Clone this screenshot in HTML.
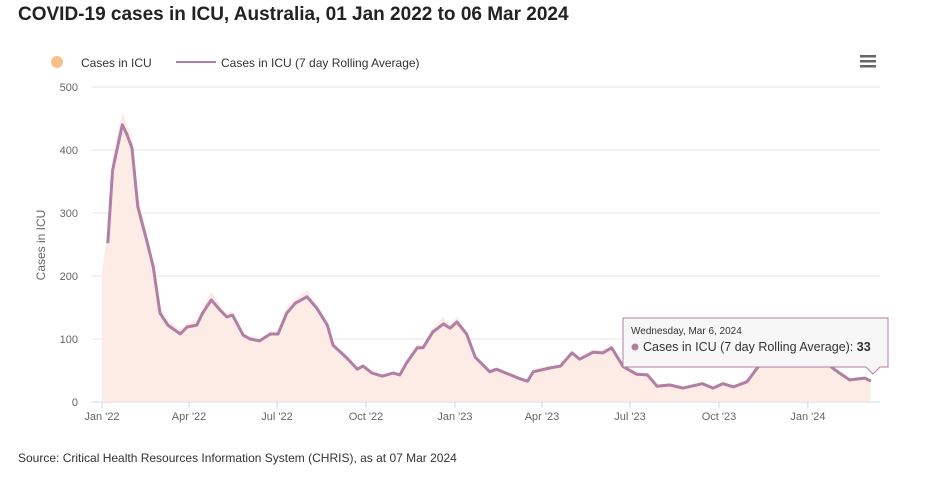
<!DOCTYPE html>
<html><head><meta charset="utf-8"><style>
body{margin:0;width:950px;height:477px;background:#fff;font-family:"Liberation Sans",sans-serif;overflow:hidden}
</style></head><body>
<svg width="950" height="477" xmlns="http://www.w3.org/2000/svg" font-family="Liberation Sans, sans-serif">
<text x="18" y="20" font-size="19" font-weight="bold" fill="#222">COVID-19 cases in ICU, Australia, 01 Jan 2022 to 06 Mar 2024</text>
<g>
<g><circle cx="57" cy="62" r="6" fill="#f7c08a"/><text x="81" y="67" font-size="12" fill="#333">Cases in ICU</text></g>
<g><line x1="176" y1="62" x2="216" y2="62" stroke="#b07fa6" stroke-width="2"/><text x="221" y="67" font-size="12" fill="#333">Cases in ICU (7 day Rolling Average)</text></g>
</g>
<g fill="#666"><rect x="860" y="55" width="16" height="2.5"/><rect x="860" y="60" width="16" height="2.5"/><rect x="860" y="65" width="16" height="2.5"/></g>
<g id="grid"></g><g id="yticks"></g><g id="xticks"></g>
<path id="area" fill="#fde8e0" opacity="0.85"/>
<path id="line" fill="none" stroke="#b07fa6" stroke-width="3" stroke-linejoin="round"/>
<text transform="translate(45,245) rotate(-90)" text-anchor="middle" font-size="12" fill="#666">Cases in ICU</text>
<g>
<path d="M623,318 H888 V367 H880 L873,374 L866,367 H623 Z" fill="#f7f7f7" stroke="#b07fa6" stroke-width="1"/>
<text x="631" y="334" font-size="10" fill="#333">Wednesday, Mar 6, 2024</text>
<circle cx="635" cy="347" r="3.5" fill="#b07fa6"/>
<text x="643" y="351" font-size="12.5" fill="#333">Cases in ICU (7 day Rolling Average): <tspan font-weight="bold">33</tspan></text>
</g>
<text x="18" y="462" font-size="12" fill="#333">Source: Critical Health Resources Information System (CHRIS), as at 07 Mar 2024</text>
</svg>
<script>
const yTicks=[0,100,200,300,400,500];
const xLabels=["Jan '22","Apr '22","Jul '22","Oct '22","Jan '23","Apr '23","Jul '23","Oct '23","Jan '24"];
const xLabelDays=[0,90,181,273,365,455,546,638,730];
const days=[6,11,21,26,31,37,47,53,60,68,81,88,98,104,113,122,129,135,146,153,163,174,182,191,200,212,222,233,239,253,264,270,279,290,301,308,315,326,332,342,353,360,367,377,386,401,408,432,440,446,463,474,486,494,508,518,527,539,553,564,574,587,601,621,632,642,653,667,680,701,722,730,742,758,773,789,795];
const avg=[252,368,440,424,403,310,252,214,141,122,108,119,122,141,162,146,135,138,106,100,97,108,108,141,157,167,149,122,90,70,52,57,46,41,46,43,62,86,86,111,124,117,127,108,71,48,52,37,33,48,54,57,78,68,79,78,86,56,44,43,25,27,22,29,22,29,24,32,59,60,62,63,71,51,35,38,33];
const cases=[275,390,460,440,420,330,265,225,150,130,115,125,130,150,175,155,140,145,110,105,100,112,112,150,165,178,155,128,95,74,56,60,50,44,48,46,66,92,90,118,135,122,135,112,75,52,55,40,36,52,58,60,82,72,84,82,90,60,47,46,28,30,25,32,25,32,27,35,62,64,66,70,75,55,38,40,35];
const X0=102,PPD=0.967,Y0=402,PPU=0.63;
const xs=d=>X0+d*PPD, ys=v=>Y0-v*PPU;
const NS="http://www.w3.org/2000/svg";
const g=document.getElementById('grid'),yt=document.getElementById('yticks'),xt=document.getElementById('xticks');
yTicks.forEach(t=>{
 const l=document.createElementNS(NS,'line');
 l.setAttribute('x1',92);l.setAttribute('x2',880);l.setAttribute('y1',ys(t));l.setAttribute('y2',ys(t));
 l.setAttribute('stroke',t===0?'#ccd6eb':'#e6e6e6');
 
 
 g.appendChild(l);
 const tx=document.createElementNS(NS,'text');
 tx.setAttribute('x',78);tx.setAttribute('y',ys(t)+4);tx.setAttribute('text-anchor','end');tx.setAttribute('font-size','11');tx.setAttribute('fill','#666');
 tx.textContent=t;
 
 
 yt.appendChild(tx);
});
xLabels.forEach((lb,i)=>{
 const x=xs(xLabelDays[i]);
 const l=document.createElementNS(NS,'line');
 l.setAttribute('x1',x);l.setAttribute('x2',x);l.setAttribute('y1',402);l.setAttribute('y2',408);l.setAttribute('stroke','#ccd6eb');
 
 
 xt.appendChild(l);
 const tx=document.createElementNS(NS,'text');
 tx.setAttribute('x',x);tx.setAttribute('y',420);tx.setAttribute('text-anchor','middle');tx.setAttribute('font-size','11');tx.setAttribute('fill','#666');
 tx.textContent=lb;
 
 
 xt.appendChild(tx);
});
let a='M'+xs(0)+','+Y0+' L'+xs(0)+','+ys(cases[0]*0.75);
days.forEach((d,i)=>{a+=' L'+xs(d).toFixed(1)+','+ys(cases[i]).toFixed(1);});
a+=' L'+xs(days[days.length-1])+','+Y0+' Z';
document.getElementById('area').setAttribute('d',a);
document.getElementById('line').setAttribute('d',days.map((d,i)=>(i?'L':'M')+xs(d).toFixed(1)+','+ys(avg[i]).toFixed(1)).join(' '));
</script>
</body></html>
